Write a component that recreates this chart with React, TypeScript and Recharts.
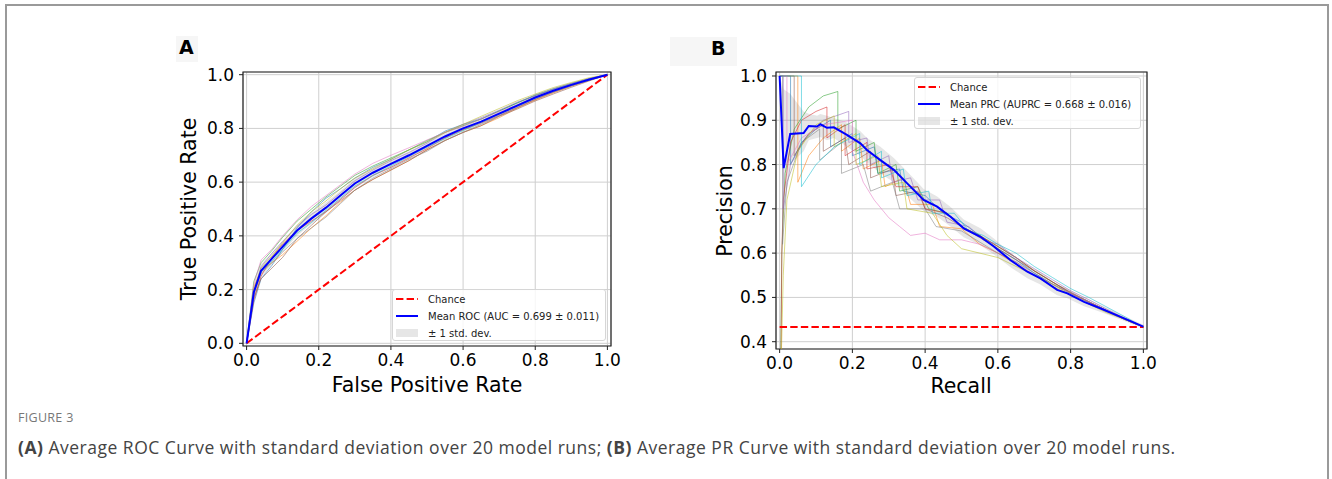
import React from 'react';
import { ComposedChart, Line, Area, XAxis, YAxis, CartesianGrid, ReferenceArea } from 'recharts';

// tick positions
const UNIT_TICKS = [0, 0.2, 0.4, 0.6, 0.8, 1.0];
const PR_Y_TICKS = [0.4, 0.5, 0.6, 0.7, 0.8, 0.9, 1.0];
const RUN_COLORS = ['#1f77b4', '#ff7f0e', '#2ca02c', '#d62728', '#9467bd', '#8c564b', '#e377c2', '#7f7f7f', '#bcbd22', '#17becf'];

// ---- (A) ROC ----
const rocFpr = [0, 0.02, 0.04, 0.07, 0.1, 0.14, 0.18, 0.22, 0.26, 0.3, 0.35, 0.4, 0.45, 0.5, 0.55, 0.6, 0.65, 0.7, 0.75, 0.8, 0.85, 0.9, 0.95, 1];
const rocMeanTpr = [0, 0.19, 0.27, 0.315, 0.36, 0.42, 0.465, 0.505, 0.55, 0.595, 0.635, 0.668, 0.7, 0.735, 0.77, 0.8, 0.825, 0.855, 0.885, 0.915, 0.94, 0.962, 0.982, 1];
const rocStd = [0, 0.03, 0.025, 0.022, 0.02, 0.02, 0.02, 0.02, 0.018, 0.018, 0.016, 0.015, 0.015, 0.014, 0.013, 0.012, 0.012, 0.011, 0.01, 0.009, 0.008, 0.006, 0.004, 0];
const rocRuns = [
  [0, 0.15, 0.24, 0.29, 0.35, 0.43, 0.49, 0.54, 0.575, 0.615, 0.655, 0.685, 0.72, 0.75, 0.79, 0.815, 0.835, 0.865, 0.895, 0.925, 0.948, 0.968, 0.986, 1],
  [0, 0.21, 0.27, 0.3, 0.33, 0.38, 0.43, 0.475, 0.525, 0.57, 0.61, 0.645, 0.68, 0.72, 0.755, 0.785, 0.81, 0.84, 0.875, 0.905, 0.932, 0.957, 0.98, 1],
  [0, 0.23, 0.3, 0.345, 0.395, 0.455, 0.5, 0.545, 0.585, 0.625, 0.66, 0.69, 0.72, 0.755, 0.785, 0.81, 0.835, 0.865, 0.895, 0.922, 0.945, 0.965, 0.984, 1],
  [0, 0.16, 0.25, 0.32, 0.37, 0.42, 0.455, 0.49, 0.535, 0.58, 0.625, 0.655, 0.69, 0.725, 0.765, 0.795, 0.82, 0.848, 0.878, 0.908, 0.936, 0.959, 0.98, 1],
  [0, 0.19, 0.285, 0.335, 0.38, 0.435, 0.48, 0.515, 0.56, 0.605, 0.645, 0.68, 0.71, 0.745, 0.785, 0.815, 0.84, 0.868, 0.898, 0.922, 0.947, 0.967, 0.986, 1],
  [0, 0.17, 0.24, 0.28, 0.32, 0.39, 0.44, 0.49, 0.53, 0.57, 0.61, 0.645, 0.68, 0.72, 0.755, 0.785, 0.81, 0.845, 0.872, 0.902, 0.928, 0.953, 0.977, 1],
  [0, 0.22, 0.31, 0.35, 0.4, 0.46, 0.51, 0.55, 0.59, 0.63, 0.67, 0.7, 0.728, 0.757, 0.785, 0.808, 0.835, 0.862, 0.888, 0.918, 0.942, 0.962, 0.982, 1],
  [0, 0.18, 0.26, 0.3, 0.34, 0.39, 0.43, 0.47, 0.52, 0.57, 0.615, 0.65, 0.685, 0.715, 0.755, 0.785, 0.815, 0.846, 0.877, 0.908, 0.934, 0.958, 0.979, 1],
  [0, 0.2, 0.28, 0.325, 0.375, 0.44, 0.49, 0.53, 0.575, 0.615, 0.65, 0.685, 0.72, 0.75, 0.785, 0.815, 0.845, 0.874, 0.903, 0.928, 0.952, 0.971, 0.989, 1],
  [0, 0.19, 0.265, 0.305, 0.35, 0.41, 0.45, 0.495, 0.54, 0.585, 0.625, 0.66, 0.695, 0.73, 0.762, 0.792, 0.822, 0.852, 0.882, 0.912, 0.938, 0.96, 0.981, 1],
];
const rocChance = [{ x: 0, y: 0 }, { x: 1, y: 1 }];

// ---- (B) PR ----
const prRecall = [0, 0.011, 0.029, 0.066, 0.08, 0.103, 0.112, 0.13, 0.149, 0.185, 0.222, 0.24, 0.277, 0.314, 0.35, 0.396, 0.433, 0.47, 0.506, 0.552, 0.589, 0.635, 0.681, 0.717, 0.763, 0.791, 0.837, 0.883, 0.937, 1];
const prMeanPrecision = [1.0, 0.792, 0.869, 0.871, 0.887, 0.886, 0.891, 0.883, 0.884, 0.867, 0.848, 0.833, 0.81, 0.788, 0.758, 0.72, 0.705, 0.682, 0.656, 0.637, 0.615, 0.584, 0.558, 0.543, 0.517, 0.509, 0.49, 0.475, 0.456, 0.434];
const prLow = [0.98, 0.72, 0.8, 0.83, 0.855, 0.86, 0.862, 0.855, 0.86, 0.84, 0.82, 0.805, 0.78, 0.76, 0.73, 0.695, 0.682, 0.66, 0.636, 0.618, 0.597, 0.568, 0.543, 0.529, 0.505, 0.498, 0.48, 0.467, 0.45, 0.43];
const prHigh = [1.0, 0.97, 0.96, 0.92, 0.915, 0.91, 0.914, 0.91, 0.905, 0.895, 0.875, 0.86, 0.84, 0.815, 0.785, 0.745, 0.728, 0.704, 0.676, 0.656, 0.633, 0.6, 0.573, 0.557, 0.529, 0.52, 0.5, 0.483, 0.462, 0.438];
const prRuns: number[][][] = [
  [[0, 1], [0.03, 1], [0.03, 0.8], [0.06, 0.85], [0.1, 0.88], [0.14, 0.9], [0.14, 0.84], [0.2, 0.87], [0.2, 0.82], [0.26, 0.84], [0.27, 0.78], [0.33, 0.79], [0.34, 0.74], [0.4, 0.73], [0.45, 0.69], [0.5, 0.67], [0.55, 0.64], [0.6, 0.61], [0.65, 0.585], [0.7, 0.555], [0.75, 0.53], [0.8, 0.51], [0.85, 0.49], [0.9, 0.47], [0.95, 0.452], [1, 0.433]],
  [[0, 1], [0.05, 1], [0.05, 0.76], [0.08, 0.82], [0.12, 0.86], [0.17, 0.89], [0.17, 0.83], [0.22, 0.86], [0.23, 0.79], [0.28, 0.81], [0.29, 0.75], [0.34, 0.77], [0.36, 0.71], [0.42, 0.71], [0.44, 0.66], [0.5, 0.655], [0.55, 0.62], [0.6, 0.6], [0.65, 0.575], [0.7, 0.55], [0.75, 0.525], [0.8, 0.505], [0.85, 0.485], [0.9, 0.468], [0.95, 0.45], [1, 0.433]],
  [[0.003, 0.38], [0.006, 0.6], [0.015, 0.78], [0.04, 0.88], [0.08, 0.93], [0.12, 0.955], [0.16, 0.965], [0.16, 0.88], [0.21, 0.9], [0.21, 0.83], [0.26, 0.85], [0.27, 0.78], [0.32, 0.8], [0.33, 0.74], [0.38, 0.75], [0.41, 0.7], [0.46, 0.69], [0.5, 0.66], [0.55, 0.64], [0.6, 0.615], [0.65, 0.59], [0.7, 0.56], [0.75, 0.535], [0.8, 0.51], [0.85, 0.49], [0.9, 0.47], [0.95, 0.45], [1, 0.433]],
  [[0.004, 0.38], [0.006, 0.6], [0.01, 0.72], [0.03, 0.85], [0.06, 0.9], [0.1, 0.92], [0.13, 0.93], [0.13, 0.86], [0.18, 0.89], [0.18, 0.82], [0.24, 0.85], [0.24, 0.79], [0.3, 0.8], [0.32, 0.75], [0.38, 0.75], [0.4, 0.7], [0.46, 0.69], [0.5, 0.66], [0.55, 0.64], [0.6, 0.615], [0.65, 0.59], [0.7, 0.56], [0.75, 0.535], [0.8, 0.51], [0.85, 0.49], [0.9, 0.47], [0.95, 0.452], [1, 0.433]],
  [[0, 1], [0.01, 1], [0.01, 0.7], [0.03, 0.8], [0.07, 0.86], [0.12, 0.9], [0.19, 0.92], [0.19, 0.85], [0.24, 0.86], [0.25, 0.8], [0.3, 0.82], [0.31, 0.76], [0.36, 0.77], [0.38, 0.72], [0.44, 0.72], [0.46, 0.67], [0.52, 0.66], [0.56, 0.63], [0.6, 0.62], [0.65, 0.59], [0.7, 0.565], [0.75, 0.54], [0.8, 0.515], [0.85, 0.495], [0.9, 0.473], [0.95, 0.453], [1, 0.433]],
  [[0, 1], [0.04, 1], [0.04, 0.82], [0.08, 0.87], [0.12, 0.89], [0.12, 0.83], [0.18, 0.86], [0.19, 0.8], [0.25, 0.83], [0.25, 0.77], [0.31, 0.79], [0.32, 0.73], [0.38, 0.74], [0.4, 0.7], [0.46, 0.68], [0.5, 0.66], [0.55, 0.635], [0.6, 0.61], [0.65, 0.585], [0.7, 0.56], [0.75, 0.535], [0.8, 0.512], [0.85, 0.49], [0.9, 0.47], [0.95, 0.45], [1, 0.433]],
  [[0, 1], [0.02, 1], [0.02, 0.8], [0.06, 0.86], [0.12, 0.89], [0.2, 0.9], [0.2, 0.83], [0.23, 0.76], [0.26, 0.72], [0.3, 0.68], [0.33, 0.66], [0.36, 0.64], [0.4, 0.645], [0.44, 0.63], [0.5, 0.63], [0.55, 0.62], [0.6, 0.6], [0.65, 0.58], [0.7, 0.55], [0.75, 0.53], [0.8, 0.51], [0.85, 0.49], [0.9, 0.47], [0.95, 0.45], [1, 0.433]],
  [[0, 1], [0.008, 1], [0.008, 0.62], [0.02, 0.76], [0.06, 0.85], [0.11, 0.88], [0.11, 0.81], [0.17, 0.85], [0.17, 0.78], [0.23, 0.8], [0.25, 0.74], [0.31, 0.76], [0.33, 0.7], [0.4, 0.7], [0.43, 0.66], [0.5, 0.65], [0.55, 0.625], [0.6, 0.6], [0.65, 0.58], [0.7, 0.555], [0.75, 0.53], [0.8, 0.508], [0.85, 0.488], [0.9, 0.468], [0.95, 0.45], [1, 0.433]],
  [[0.005, 0.38], [0.01, 0.55], [0.02, 0.72], [0.05, 0.83], [0.1, 0.89], [0.15, 0.91], [0.15, 0.84], [0.21, 0.87], [0.21, 0.8], [0.27, 0.82], [0.28, 0.75], [0.34, 0.76], [0.35, 0.7], [0.42, 0.69], [0.46, 0.64], [0.5, 0.61], [0.55, 0.6], [0.6, 0.59], [0.65, 0.57], [0.7, 0.55], [0.75, 0.53], [0.8, 0.505], [0.85, 0.485], [0.9, 0.465], [0.95, 0.45], [1, 0.433]],
  [[0, 1], [0.06, 1], [0.06, 0.75], [0.1, 0.8], [0.15, 0.84], [0.22, 0.87], [0.22, 0.8], [0.28, 0.83], [0.28, 0.77], [0.34, 0.79], [0.35, 0.73], [0.41, 0.74], [0.42, 0.69], [0.48, 0.69], [0.52, 0.65], [0.56, 0.64], [0.6, 0.62], [0.65, 0.6], [0.7, 0.57], [0.75, 0.545], [0.8, 0.52], [0.85, 0.5], [0.9, 0.478], [0.95, 0.456], [1, 0.433]],
];
const prChance = [{ x: 0, y: 0.433 }, { x: 1, y: 0.433 }];

const rocData = rocFpr.map((x, i) => {
  const row: any = { x, mean: rocMeanTpr[i], band: [rocMeanTpr[i] - rocStd[i], Math.min(1, rocMeanTpr[i] + rocStd[i])] };
  rocRuns.forEach((run, k) => { row['r' + k] = run[i]; });
  return row;
});
const prData = prRecall.map((x, i) => ({ x, mean: prMeanPrecision[i], band: [prLow[i], prHigh[i]] }));
const prRunData = prRuns.map(run => run.map(([x, y]) => ({ x, y })));

const FONT = '"DejaVu Sans", sans-serif';
const tick = { fontSize: 17, fill: '#000', fontFamily: FONT };
const fmt = (v: number) => v.toFixed(1);

const LegendBox = ({ left, top, width, label }: { left: number; top: number; width: number; label: string }) => (
  <div style={{ position: 'absolute', left, top, width, height: 52, boxSizing: 'border-box', background: 'rgba(255,255,255,0.8)', border: '1px solid #d6d6d6', borderRadius: 3, fontFamily: FONT, fontSize: 10, color: '#222' }}>
    {[
      { text: 'Chance', kind: 'dash' },
      { text: label, kind: 'line' },
      { text: '± 1 std. dev.', kind: 'patch' },
    ].map((e, i) => (
      <div key={i} style={{ position: 'absolute', left: 3, top: 1 + i * 17, height: 16, display: 'flex', alignItems: 'center', whiteSpace: 'nowrap' }}>
        <svg width={22} height={10} style={{ marginRight: 10 }}>
          {e.kind === 'dash' && <line x1={0} y1={5} x2={22} y2={5} stroke="#ff0000" strokeWidth={2} strokeDasharray="7.4 3.2" />}
          {e.kind === 'line' && <line x1={0} y1={5} x2={22} y2={5} stroke="#0000ff" strokeWidth={2} />}
          {e.kind === 'patch' && <rect x={0} y={1} width={22} height={8} fill="#808080" fillOpacity={0.2} />}
        </svg>
        <span>{e.text}</span>
      </div>
    ))}
  </div>
);

const AxisTitle = ({ x, y, text, rotate }: { x: number; y: number; text: string; rotate?: boolean }) => (
  <div style={{ position: 'absolute', left: x, top: y, transform: `translate(-50%, -50%)${rotate ? ' rotate(-90deg)' : ''}`, fontFamily: FONT, fontSize: 20.5, color: '#000', whiteSpace: 'nowrap', lineHeight: 1 }}>
    {text}
  </div>
);

export default function App() {
  return (
    <div style={{ position: 'absolute', left: 0, top: 0, width: 1332, height: 479, background: '#fff', overflow: 'hidden' }}>
      <div style={{ position: 'absolute', left: 5, top: 4, width: 1320, height: 520, border: '2px solid #9a9a9a' }} />

      {/* panel A */}
      <div style={{ position: 'absolute', left: 176, top: 36, width: 22, height: 26, background: '#f6f6f6' }} />
      <div style={{ position: 'absolute', left: 179, top: 36, fontFamily: FONT, fontWeight: 'bold', fontSize: 19, color: '#000' }}>A</div>
      <div style={{ position: 'absolute', left: 170, top: 30 }}>
        <ComposedChart width={451} height={360} data={rocData} margin={{ top: 42, right: 10, bottom: 14, left: 0 }}>
          <CartesianGrid stroke="#cfcfcf" strokeWidth={1} />
          <XAxis dataKey="x" type="number" domain={[-0.01, 1.01]} ticks={UNIT_TICKS} tickFormatter={fmt} tick={tick} tickSize={4} tickMargin={4} axisLine={false} tickLine={{ stroke: '#222' }} height={30} allowDataOverflow />
          <YAxis type="number" domain={[-0.01, 1.01]} ticks={UNIT_TICKS} tickFormatter={fmt} tick={tick} tickSize={4} tickMargin={5} axisLine={false} tickLine={{ stroke: '#222' }} width={73} allowDataOverflow />
          <Area dataKey="band" type="linear" stroke="none" fill="#808080" fillOpacity={0.2} isAnimationActive={false} />
          {rocRuns.map((_, k) => (
            <Line key={k} dataKey={'r' + k} type="linear" stroke={RUN_COLORS[k]} strokeOpacity={0.55} strokeWidth={1} dot={false} isAnimationActive={false} />
          ))}
          <Line data={rocChance} dataKey="y" type="linear" stroke="#ff0000" strokeWidth={2} strokeDasharray="7.4 3.2" dot={false} isAnimationActive={false} />
          <Line dataKey="mean" type="linear" stroke="#0000ff" strokeWidth={2} dot={false} isAnimationActive={false} />
          <ReferenceArea x1={-0.01} x2={1.01} y1={-0.01} y2={1.01} fill="none" stroke="#222" strokeWidth={1.2} />
        </ComposedChart>
      </div>
      <AxisTitle x={427} y={385} text="False Positive Rate" />
      <AxisTitle x={189} y={209} text="True Positive Rate" rotate />
      <LegendBox left={392} top={289} width={214} label="Mean ROC (AUC = 0.699 ± 0.011)" />

      {/* panel B */}
      <div style={{ position: 'absolute', left: 670, top: 37, width: 67, height: 29, background: '#f6f6f6' }} />
      <div style={{ position: 'absolute', left: 711, top: 37, fontFamily: FONT, fontWeight: 'bold', fontSize: 19, color: '#000' }}>B</div>
      <div style={{ position: 'absolute', left: 700, top: 30 }}>
        <ComposedChart width={457} height={360} data={prData} margin={{ top: 42, right: 10, bottom: 11, left: 0 }}>
          <CartesianGrid stroke="#cfcfcf" strokeWidth={1} />
          <XAxis dataKey="x" type="number" domain={[-0.01, 1.01]} ticks={UNIT_TICKS} tickFormatter={fmt} tick={tick} tickSize={4} tickMargin={4} axisLine={false} tickLine={{ stroke: '#222' }} height={30} allowDataOverflow />
          <YAxis type="number" domain={[0.3835, 1.009]} ticks={PR_Y_TICKS} tickFormatter={fmt} tick={tick} tickSize={4} tickMargin={5} axisLine={false} tickLine={{ stroke: '#222' }} width={76} allowDataOverflow />
          {prRunData.map((run, k) => (
            <Line key={k} data={run} dataKey="y" type="linear" stroke={RUN_COLORS[k]} strokeOpacity={0.55} strokeWidth={1} dot={false} isAnimationActive={false} />
          ))}
          <Area dataKey="band" type="linear" stroke="none" fill="#808080" fillOpacity={0.2} isAnimationActive={false} />
          <Line data={prChance} dataKey="y" type="linear" stroke="#ff0000" strokeWidth={2} strokeDasharray="7.4 3.2" dot={false} isAnimationActive={false} />
          <Line dataKey="mean" type="linear" stroke="#0000ff" strokeWidth={2} dot={false} isAnimationActive={false} />
          <ReferenceArea x1={-0.01} x2={1.01} y1={0.3835} y2={1.009} fill="none" stroke="#222" strokeWidth={1.2} />
        </ComposedChart>
      </div>
      <AxisTitle x={961} y={386} text="Recall" />
      <AxisTitle x={725} y={211} text="Precision" rotate />
      <LegendBox left={914} top={77} width={227} label="Mean PRC (AUPRC = 0.668 ± 0.016)" />

      {/* caption */}
      <div style={{ position: 'absolute', left: 18, top: 409, fontFamily: '"Open Sans", sans-serif', fontSize: 12.5, color: '#777', letterSpacing: 0.3 }}>FIGURE 3</div>
      <div style={{ position: 'absolute', left: 18, top: 435, fontFamily: '"Open Sans", sans-serif', fontSize: 17.5, letterSpacing: 0.5, color: '#444', whiteSpace: 'nowrap' }}>
        <b>(A)</b> Average ROC Curve with standard deviation over 20 model runs; <b>(B)</b> Average PR Curve with standard deviation over 20 model runs.
      </div>
    </div>
  );
}
